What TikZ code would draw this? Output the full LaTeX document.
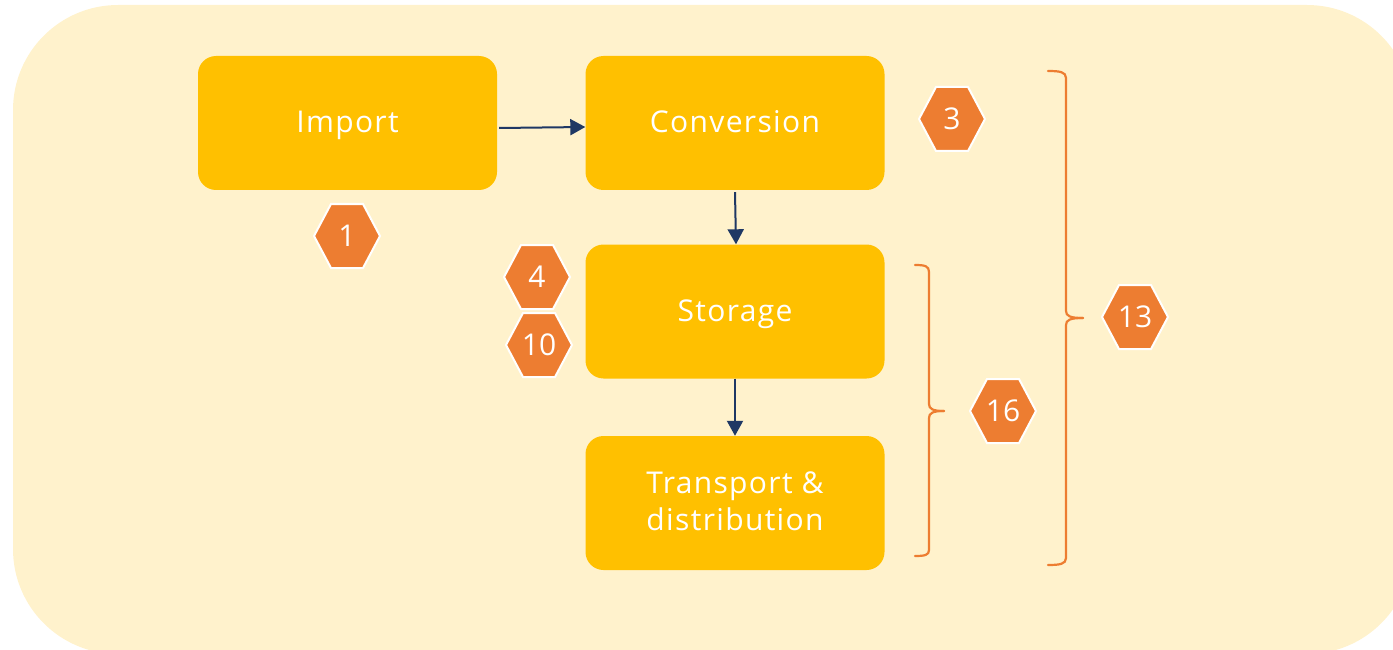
\documentclass[tikz,border=0pt]{standalone}
\usepackage{fontspec}
\setmainfont{Open Sans}
\newfontfamily\stepfont[LetterSpace=4.5]{Open Sans}
\usetikzlibrary{arrows.meta,calc}

\definecolor{panelbg}{HTML}{FFF2CC}
\definecolor{stepfill}{HTML}{FFC000}
\definecolor{badgefill}{HTML}{ED7D31}
\definecolor{flowline}{HTML}{1F3864}

\tikzset{
  stepbox/.style={fill=stepfill, draw=none, rounded corners=18pt,
    minimum width=299pt, minimum height=134pt, inner sep=0pt,
    text=white, align=center, font=\stepfont\fontsize{30}{37}\selectfont},
  oneline/.style={text height=24pt, text depth=5pt},
  badgeshape/.style={fill=badgefill, draw=white, line width=2pt, line join=miter},
  badgetext/.style={text=white, inner sep=0pt, font=\fontsize{30}{36}\selectfont},
  flow/.style={draw=flowline, line width=2pt, -{Triangle[length=15pt,width=16pt]}},
  bracket/.style={draw=badgefill, line width=2.2pt, line cap=round}
}

% hexagonal number badge: #1 name, #2 x, #3 y, #4 label
\newcommand\hexbadge[4]{%
  \path[badgeshape] (#2-33,#3) -- (#2-16,#3-32) -- (#2+16,#3-32) -- (#2+33,#3)
    -- (#2+16,#3+32) -- (#2-16,#3+32) -- cycle;
  \node[badgetext] (#1) at (#2,#3) {#4};
}

\begin{document}
\begin{tikzpicture}[x=1pt,y=-1pt]
  \useasboundingbox (0,0) rectangle (1393,650);

  % background panel, running past the right and bottom edges
  \begin{scope}
    \clip (0,0) rectangle (1393,650);
    \fill[panelbg, rounded corners=105pt] (13,5) rectangle (1412,654);
  \end{scope}

  % process steps
  \node[stepbox, oneline] (imp)  at (347.5,123) {Import};
  \node[stepbox, oneline] (conv) at (735,123)   {Conversion};
  \node[stepbox, oneline] (stor) at (735,311.5) {Storage};
  \node[stepbox] (trans) at (735,503) {};
  \node[text=white, align=center, inner sep=0pt,
        font=\stepfont\fontsize{30}{37}\selectfont] (transtext)
        at ([yshift=2pt]trans.center) {Transport \&\\distribution};

  % flow arrows
  \draw[flow] ([xshift=2pt,yshift=-5pt]imp.east) -- ([yshift=-4pt]conv.west);
  \draw[flow] ([yshift=-2pt]conv.south) -- ([xshift=1pt]stor.north);
  \draw[flow] (stor.south) -- (trans.north);

  % number badges
  \hexbadge{b1}{347}{236}{1}
  \hexbadge{b3}{952}{119}{3}
  \hexbadge{b4}{537}{277}{4}
  \hexbadge{b10}{539}{345}{10}
  \hexbadge{b16}{1003}{411}{16}
  \hexbadge{b13}{1135}{317}{13}

  % bracket grouping storage and transport
  \draw[bracket] (915,265) .. controls (925,265) and (929,266) .. (929,272)
    -- (929,404) .. controls (929,409) and (933,411) .. (944,411);
  \draw[bracket] (944,411) .. controls (933,411) and (929,413) .. (929,418)
    -- (929,550) .. controls (929,555) and (925,556) .. (915,556);

  % bracket grouping conversion to transport
  \draw[bracket] (1048,71) .. controls (1060,71) and (1066,72) .. (1066,78)
    -- (1066,311) .. controls (1066,316) and (1070,318) .. (1083,318);
  \draw[bracket] (1083,318) .. controls (1070,318) and (1066,320) .. (1066,325)
    -- (1066,558) .. controls (1066,564) and (1060,565) .. (1048,565);
\end{tikzpicture}
\end{document}
